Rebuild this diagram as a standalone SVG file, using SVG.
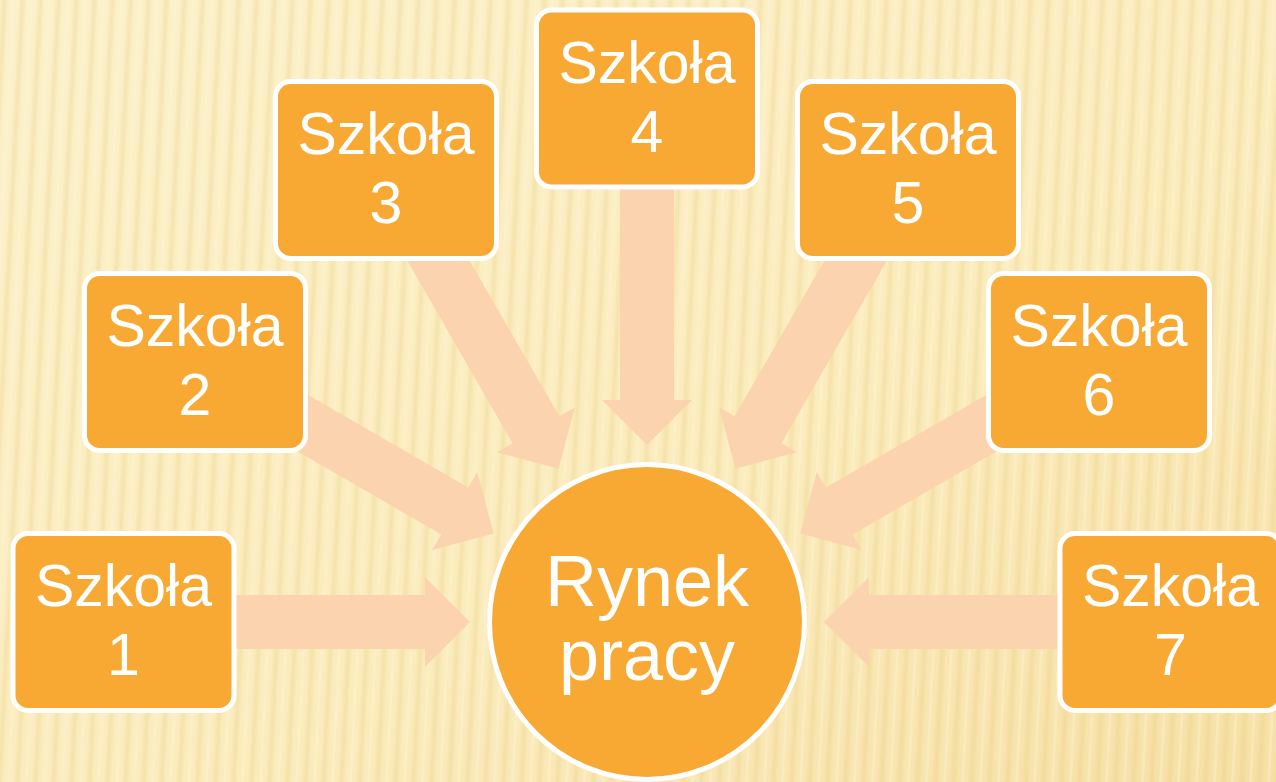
<svg xmlns="http://www.w3.org/2000/svg" width="1276" height="782" viewBox="0 0 1276 782">
  <style>
    .box { fill: #F8A933; stroke: #FFFFFF; stroke-width: 5; }
    .lbl { fill: #FFFFFF; font-family: "Liberation Sans", Arial, sans-serif; font-size: 59px; text-anchor: middle; }
    .big { font-size: 72px; }
    .arrow { fill: #FBD3AF; }
  </style>
  <defs>
    <linearGradient id="bg" x1="0" y1="0" x2="1" y2="1">
      <stop offset="0" stop-color="#FCF1CA"/>
      <stop offset="0.6" stop-color="#FBECBD"/>
      <stop offset="1" stop-color="#F6E0A6"/>
    </linearGradient>
    <linearGradient id="stripe" x1="0" y1="0" x2="1" y2="0">
      <stop offset="0" stop-color="#E6C874" stop-opacity="0"/>
      <stop offset="0.5" stop-color="#E6C874" stop-opacity="0.28"/>
      <stop offset="1" stop-color="#E6C874" stop-opacity="0"/>
    </linearGradient>
    <pattern id="stripes" width="18" height="782" patternUnits="userSpaceOnUse" patternTransform="skewX(-3)">
      <rect x="0" y="0" width="9" height="782" fill="url(#stripe)"/>
      <rect x="12" y="0" width="3" height="782" fill="#FFF8DC" opacity="0.3"/>
    </pattern>
    <path id="arr" d="M -450,-27 L -222,-27 L -222,-45 L -177,0 L -222,45 L -222,27 L -450,27 Z"/>
  </defs>

  <rect width="1276" height="782" fill="url(#bg)"/>
  <rect width="1276" height="782" fill="url(#stripes)"/>

  <g id="connectors">
    <use href="#arr" class="arrow" transform="translate(647,622) rotate(0)"/>
    <use href="#arr" class="arrow" transform="translate(647,622) rotate(30)"/>
    <use href="#arr" class="arrow" transform="translate(647,622) rotate(60)"/>
    <use href="#arr" class="arrow" transform="translate(647,622) rotate(90)"/>
    <use href="#arr" class="arrow" transform="translate(647,622) rotate(120)"/>
    <use href="#arr" class="arrow" transform="translate(647,622) rotate(150)"/>
    <use href="#arr" class="arrow" transform="translate(647,622) rotate(180)"/>
  </g>

  <g id="rynek">
    <circle cx="647" cy="622" r="157.5" class="box"/>
    <text class="lbl big" x="647" y="606">Rynek</text>
    <text class="lbl big" x="647" y="680">pracy</text>
  </g>

  <g id="szkola1">
    <rect x="13" y="533.5" width="221" height="177" rx="15" class="box"/>
    <text class="lbl" x="123.5" y="606">Szkoła</text>
    <text class="lbl" x="123.5" y="675">1</text>
  </g>
  <g id="szkola2">
    <rect x="84.5" y="273.5" width="221" height="177" rx="15" class="box"/>
    <text class="lbl" x="195" y="346">Szkoła</text>
    <text class="lbl" x="195" y="415">2</text>
  </g>
  <g id="szkola3">
    <rect x="275.5" y="81.5" width="221" height="177" rx="15" class="box"/>
    <text class="lbl" x="386" y="154">Szkoła</text>
    <text class="lbl" x="386" y="223">3</text>
  </g>
  <g id="szkola4">
    <rect x="536.5" y="10" width="221" height="177" rx="15" class="box"/>
    <text class="lbl" x="647" y="83">Szkoła</text>
    <text class="lbl" x="647" y="152">4</text>
  </g>
  <g id="szkola5">
    <rect x="797.5" y="81.5" width="221" height="177" rx="15" class="box"/>
    <text class="lbl" x="908" y="154">Szkoła</text>
    <text class="lbl" x="908" y="223">5</text>
  </g>
  <g id="szkola6">
    <rect x="988.5" y="273.5" width="221" height="177" rx="15" class="box"/>
    <text class="lbl" x="1099" y="346">Szkoła</text>
    <text class="lbl" x="1099" y="415">6</text>
  </g>
  <g id="szkola7">
    <rect x="1060" y="533.5" width="221" height="177" rx="15" class="box"/>
    <text class="lbl" x="1170.5" y="606">Szkoła</text>
    <text class="lbl" x="1170.5" y="675">7</text>
  </g>
</svg>
